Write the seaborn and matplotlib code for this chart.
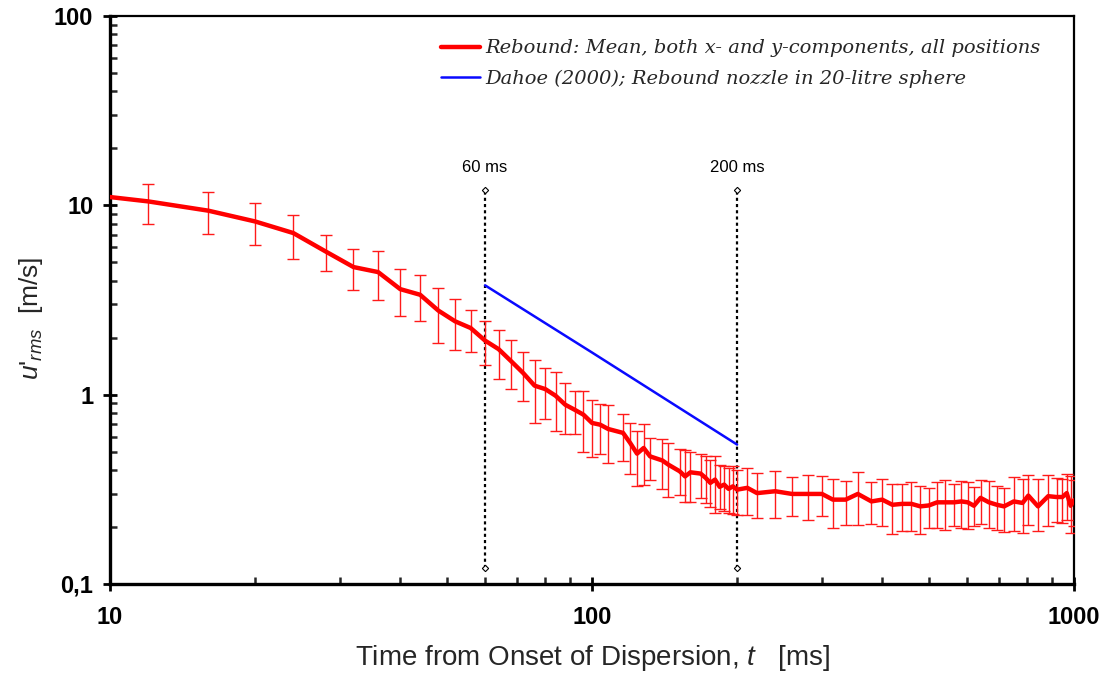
import numpy as np
import pandas as pd
import matplotlib
matplotlib.use("Agg")
import matplotlib.pyplot as plt
import seaborn as sns
from matplotlib.ticker import FixedLocator, LogLocator, NullFormatter, FixedFormatter

# ---------------- data ----------------
t_ms = [10, 12, 16, 20, 24, 28, 32, 36, 40, 44, 48, 52, 56, 60, 64, 68, 72, 76, 80, 84,
        88, 92, 96, 100, 104, 108, 116, 120, 124, 128, 132, 140, 144, 152, 156, 160, 168,
        172, 176, 180, 184, 188, 192, 196, 200, 210, 220, 240, 260, 280, 300, 316, 336,
        356, 380, 400, 420, 440, 460, 480, 500, 520, 540, 564, 584, 602, 620, 640, 666,
        692, 716, 750, 782, 804, 842, 884, 920, 946, 966, 984, 1000]
u_mean = [11.06, 10.49, 9.37, 8.22, 7.14, 5.71, 4.72, 4.44, 3.61, 3.37, 2.78, 2.44, 2.25,
          1.93, 1.74, 1.50, 1.30, 1.116, 1.07, 0.988, 0.885, 0.833, 0.784, 0.709, 0.694,
          0.659, 0.628, 0.556, 0.488, 0.523, 0.472, 0.449, 0.427, 0.394, 0.370, 0.389,
          0.383, 0.364, 0.342, 0.356, 0.326, 0.335, 0.318, 0.328, 0.315, 0.322, 0.302,
          0.309, 0.299, 0.299, 0.299, 0.279, 0.279, 0.299, 0.273, 0.279, 0.262, 0.265,
          0.265, 0.257, 0.260, 0.270, 0.270, 0.270, 0.273, 0.270, 0.259, 0.285, 0.270,
          0.262, 0.257, 0.273, 0.268, 0.293, 0.257, 0.291, 0.288, 0.288, 0.302, 0.259,
          0.277]
u_upper = [np.nan, 12.9, 11.7, 10.3, 8.84, 6.97, 5.9, 5.74, 4.59, 4.26, 3.66, 3.2, 2.81,
           2.44, 2.2, 1.95, 1.67, 1.52, 1.39, 1.32, 1.147, 1.04, 1.05, 0.941, 0.893,
           0.878, 0.79, 0.709, 0.646, 0.703, 0.591, 0.583, 0.556, 0.519, 0.508, 0.496,
           0.488, 0.477, 0.45, 0.472, 0.427, 0.421, 0.41, 0.418, 0.40, 0.41, 0.386,
           0.394, 0.368, 0.378, 0.374, 0.359, 0.348, 0.389, 0.344, 0.359, 0.339, 0.339,
           0.344, 0.328, 0.322, 0.344, 0.353, 0.339, 0.348, 0.344, 0.326, 0.353, 0.348,
           0.331, 0.322, 0.366, 0.359, 0.378, 0.359, 0.378, 0.363, 0.359, 0.383, 0.370,
           0.356]
u_lower = [np.nan, 7.93, 7.08, 6.14, 5.2, 4.52, 3.57, 3.17, 2.61, 2.44, 1.87, 1.72, 1.69,
           1.44, 1.21, 1.07, 0.93, 0.71, 0.744, 0.646, 0.62, 0.62, 0.496, 0.469, 0.484,
           0.435, 0.449, 0.381, 0.331, 0.334, 0.356, 0.318, 0.288, 0.294, 0.271, 0.271,
           0.285, 0.268, 0.255, 0.237, 0.249, 0.242, 0.237, 0.235, 0.231, 0.2325, 0.2234,
           0.223, 0.228, 0.217, 0.228, 0.198, 0.204, 0.204, 0.2077, 0.2017, 0.1845, 0.191,
           0.19, 0.1845, 0.198, 0.198, 0.194, 0.2017, 0.198, 0.196, 0.2017, 0.2084, 0.198,
           0.194, 0.1875, 0.19, 0.186, 0.206, 0.19, 0.2017, 0.212, 0.21, 0.219, 0.186,
           0.2017]

t_dahoe = [60, 100, 200]
u_dahoe = [3.78, 1.67, 0.545]

marker_times = [60, 200]
marker_labels = ["60 ms", "200 ms"]
marker_ybottom = 0.122
marker_ytop = 12.1
marker_label_y = 15.8

label_red = "Rebound: Mean, both x- and y-components, all positions"
label_blue = "Dahoe (2000); Rebound nozzle in 20-litre sphere"

x_major = [10, 100, 1000]
x_major_labels = ["10", "100", "1000"]
y_major = [0.1, 1, 10, 100]
y_major_labels = ["0,1", "1", "10", "100"]

# ---------------- style ----------------
sns.set_style("ticks")
plt.rcParams["font.family"] = ["Liberation Sans", "DejaVu Sans"]
plt.rcParams["mathtext.fontset"] = "custom"
plt.rcParams["mathtext.it"] = "Liberation Sans:italic"
plt.rcParams["mathtext.rm"] = "Liberation Sans"

fig = plt.figure(figsize=(11.07, 6.77), dpi=100)
ax = fig.add_axes([110 / 1107, 1 - 584 / 677, (1074 - 110) / 1107, (584 - 16) / 677])
ax.set_xscale("log")
ax.set_yscale("log")

df_red = pd.DataFrame({"t": t_ms, "u": u_mean, "hi": u_upper, "lo": u_lower})
df_blue = pd.DataFrame({"t": t_dahoe, "u": u_dahoe})

# vertical marker lines
for tm, lab in zip(marker_times, marker_labels):
    ax.plot([tm, tm], [marker_ybottom, marker_ytop], color="black", lw=1.6,
            linestyle=(0, (1.4, 1.4)), zorder=2)
    ax.plot([tm, tm], [marker_ybottom, marker_ytop], linestyle="none", marker="D",
            markersize=3.2, markerfacecolor="white", markeredgecolor="black",
            markeredgewidth=0.8, zorder=3)
    ax.text(tm, marker_label_y, lab, ha="center", va="center", fontsize=12,
            color="black")

# error bars
eb = df_red.dropna()
ax.errorbar(eb["t"], eb["u"], yerr=[eb["u"] - eb["lo"], eb["hi"] - eb["u"]],
            fmt="none", ecolor="#ff1a1a", elinewidth=1.0, capsize=4, capthick=1.0,
            zorder=4)

sns.lineplot(data=df_red, x="t", y="u", ax=ax, color="#ff0000", lw=3.2,
             label=label_red, zorder=5, estimator=None, sort=False)
sns.lineplot(data=df_blue, x="t", y="u", ax=ax, color="#0a0aff", lw=1.8,
             label=label_blue, zorder=5, estimator=None, sort=False)

ax.set_xlim(10, 1000)
ax.set_ylim(0.1, 100)

ax.xaxis.set_major_locator(FixedLocator(x_major))
ax.xaxis.set_major_formatter(FixedFormatter(x_major_labels))
ax.yaxis.set_major_locator(FixedLocator(y_major))
ax.yaxis.set_major_formatter(FixedFormatter(y_major_labels))
ax.xaxis.set_minor_locator(LogLocator(base=10, subs=np.arange(2, 10)))
ax.yaxis.set_minor_locator(LogLocator(base=10, subs=np.arange(2, 10)))
ax.xaxis.set_minor_formatter(NullFormatter())
ax.yaxis.set_minor_formatter(NullFormatter())

ax.tick_params(axis="both", which="major", direction="inout", length=10, width=2,
               labelsize=17, colors="black")
ax.tick_params(axis="x", which="major", pad=11)
ax.tick_params(axis="y", which="major", pad=7)
ax.tick_params(axis="both", which="minor", direction="in", length=5, width=1.8)
for lbl in ax.get_xticklabels() + ax.get_yticklabels():
    lbl.set_fontweight("bold")

for side in ["left", "bottom"]:
    ax.spines[side].set_linewidth(2.4)
for side in ["top", "right"]:
    ax.spines[side].set_visible(True)
    ax.spines[side].set_linewidth(1.6)
for s in ax.spines.values():
    s.set_color("black")

ax.set_xlabel("Time from Onset of Dispersion, $t$   [ms]", fontsize=20, labelpad=10)
ax.set_ylabel(r"$u\text{'}_{rms}$  [m/s]", fontsize=19)
ax.yaxis.set_label_coords(-0.067, 0.467)

leg = ax.legend(loc="upper right", frameon=False, handlelength=2.0,
                handletextpad=0.3,
                prop={"family": "DejaVu Serif", "style": "italic", "size": 14},
                borderaxespad=0.8, labelspacing=0.62, bbox_to_anchor=(0.99, 1.0))

fig.savefig("out.png", dpi=100, facecolor="white")
